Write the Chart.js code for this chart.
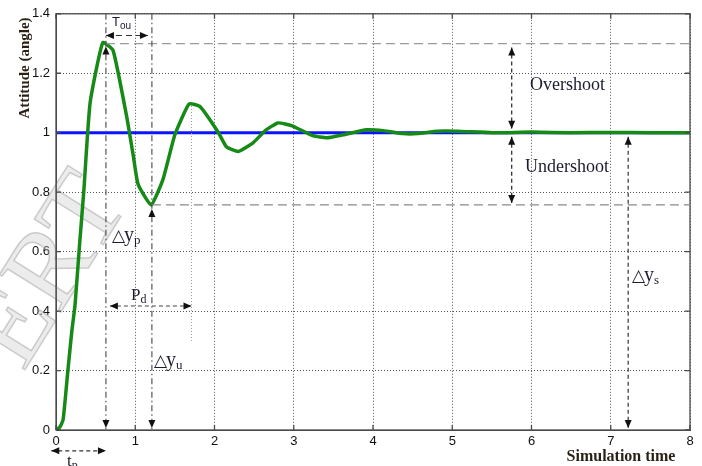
<!DOCTYPE html>
<html>
<head>
<meta charset="utf-8">
<script src="https://cdn.jsdelivr.net/npm/chart.js@4/dist/chart.umd.min.js"></script>
<style>
  body { margin: 0; background: #fff; }
  #wrap { width: 702px; height: 466px; }
</style>
</head>
<body>
<div id="wrap"><canvas id="chart" width="702" height="466"></canvas></div>
<script>
// ==========================
// DATA
// ==========================
const simTime  = [0, 0.05, 0.09, 0.15, 0.2, 0.24, 0.3, 0.35, 0.43, 0.59, 0.72, 0.89, 0.975, 1.035, 1.2, 1.35, 1.5, 1.68, 1.82, 2.05, 2.15, 2.3, 2.49, 2.64, 2.8, 2.98, 3.24, 3.42, 3.62, 3.92, 4.13, 4.38, 4.56, 4.81, 5.06, 5.5, 6, 6.5, 7, 7.5, 8];
const attitude = [0, 0.01, 0.035, 0.2, 0.333, 0.42, 0.633, 0.8, 1.1, 1.303, 1.277, 1.057, 0.923, 0.827, 0.757, 0.843, 0.993, 1.097, 1.087, 1.0, 0.953, 0.937, 0.967, 1.007, 1.033, 1.023, 0.99, 0.983, 0.993, 1.01, 1.007, 0.997, 0.997, 1.005, 1.005, 1.0, 1.002, 1.0, 1.001, 1.0, 1.0];

const setpointTime  = [0, 8];
const setpointValue = [1, 1];

const xTicks = [0, 1, 2, 3, 4, 5, 6, 7, 8];
const yTicks = [0, 0.2, 0.4, 0.6, 0.8, 1, 1.2, 1.4];

// annotation positions (data units)
const peakTime = 0.63,   peakValue = 1.3;
const underTime = 1.21,  underValue = 0.757;
const touLevel = 1.327,  touEnd = 1.16;
const pdLevel = 0.417,   pdStart = 0.68, pdEnd = 1.71, pdTop = 1.09, pdBottom = 0.3;
const shootTime = 5.75;
const settleTime = 7.22;
const tpLevel = -0.07,   tpStart = -0.06;

// ==========================
// HELPERS
// ==========================
function arrowHead(ctx, x, y, dir) {
    const l = 8, w = 3.5;
    ctx.beginPath();
    ctx.moveTo(x, y);
    if (dir === 'up')    { ctx.lineTo(x - w, y + l); ctx.lineTo(x + w, y + l); }
    if (dir === 'down')  { ctx.lineTo(x - w, y - l); ctx.lineTo(x + w, y - l); }
    if (dir === 'left')  { ctx.lineTo(x + l, y - w); ctx.lineTo(x + l, y + w); }
    if (dir === 'right') { ctx.lineTo(x - l, y - w); ctx.lineTo(x - l, y + w); }
    ctx.closePath();
    ctx.fill();
}

function line(ctx, x1, y1, x2, y2, dash, color, width) {
    ctx.save();
    ctx.setLineDash(dash);
    ctx.strokeStyle = color;
    ctx.lineWidth = width || 1.2;
    ctx.beginPath();
    ctx.moveTo(x1, y1);
    ctx.lineTo(x2, y2);
    ctx.stroke();
    ctx.restore();
}

function subText(ctx, main, sub, x, y, font, subFont, withTri) {
    ctx.save();
    ctx.fillStyle = '#1c1c30';
    ctx.textBaseline = 'alphabetic';
    ctx.textAlign = 'left';
    if (withTri) {
        ctx.font = '17px "DejaVu Sans"';
        ctx.fillText('\u25B3', x, y);
        x += ctx.measureText('\u25B3').width - 1;
    }
    ctx.font = font;
    ctx.fillText(main, x, y);
    x += ctx.measureText(main).width;
    ctx.font = subFont;
    ctx.fillText(sub, x, y + 3);
    ctx.restore();
}

// ==========================
// PLUGINS
// ==========================
const watermark = {
    id: 'watermark',
    beforeDatasetsDraw(chart) {
        const ctx = chart.ctx;
        ctx.save();
        ctx.translate(52, 272);
        ctx.rotate(-58 * Math.PI / 180);
        ctx.font = '110px "Liberation Serif"';
        ctx.textAlign = 'center';
        ctx.textBaseline = 'middle';
        ctx.fillStyle = 'rgba(200,200,200,0.35)';
        ctx.strokeStyle = 'rgba(150,150,150,0.45)';
        ctx.lineWidth = 1.5;
        ctx.fillText('ERT', 0, 0);
        ctx.strokeText('ERT', 0, 0);
        ctx.restore();
    }
};

const annotations = {
    id: 'annotations',
    afterDatasetsDraw(chart) {
        const ctx = chart.ctx;
        const xs = chart.scales.x, ys = chart.scales.y;
        const px = v => xs.getPixelForValue(v);
        const py = v => ys.getPixelForValue(v);
        const area = chart.chartArea;
        const dashDot = [6, 3, 1.5, 3];
        const dashed = [4, 3];

        // frame and inward ticks
        ctx.save();
        ctx.strokeStyle = '#4a4a4a';
        ctx.lineWidth = 1.3;
        ctx.strokeRect(area.left, area.top, area.right - area.left, area.bottom - area.top);
        ctx.beginPath();
        xTicks.forEach(t => {
            ctx.moveTo(px(t), area.bottom); ctx.lineTo(px(t), area.bottom - 5);
            ctx.moveTo(px(t), area.top);    ctx.lineTo(px(t), area.top + 5);
        });
        yTicks.forEach(v => {
            ctx.moveTo(area.left, py(v));  ctx.lineTo(area.left + 5, py(v));
            ctx.moveTo(area.right, py(v)); ctx.lineTo(area.right - 5, py(v));
        });
        ctx.stroke();
        ctx.restore();

        // reference levels
        line(ctx, px(peakTime), py(peakValue), area.right, py(peakValue), [9, 5], '#9a9a9a', 1.2);
        line(ctx, px(underTime), py(underValue), area.right, py(underValue), [9, 5], '#8a8a8a', 1.2);

        // peak / undershoot verticals
        line(ctx, px(peakTime), area.top, px(peakTime), area.bottom, dashDot, '#555', 1.2);
        line(ctx, px(underTime), area.top, px(underTime), area.bottom, dashDot, '#555', 1.2);
        line(ctx, px(pdEnd), py(pdTop), px(pdEnd), py(pdBottom), [1, 2], '#999', 1);

        ctx.fillStyle = '#111';
        arrowHead(ctx, px(peakTime), py(peakValue) + 3, 'up');
        arrowHead(ctx, px(peakTime), area.bottom - 2, 'down');
        arrowHead(ctx, px(underTime), py(underValue) + 4, 'up');
        arrowHead(ctx, px(underTime), area.bottom - 2, 'down');

        // T_ou
        line(ctx, px(peakTime), py(touLevel), px(touEnd), py(touLevel), [6, 4], '#333', 1.2);
        arrowHead(ctx, px(peakTime), py(touLevel), 'left');
        arrowHead(ctx, px(touEnd), py(touLevel), 'right');

        // P_d
        line(ctx, px(pdStart), py(pdLevel), px(pdEnd), py(pdLevel), dashed, '#444', 1.1);
        arrowHead(ctx, px(pdStart), py(pdLevel), 'left');
        arrowHead(ctx, px(pdEnd), py(pdLevel), 'right');

        // overshoot / undershoot
        line(ctx, px(shootTime), py(peakValue) + 4, px(shootTime), py(1) - 4, dashed, '#333', 1.3);
        arrowHead(ctx, px(shootTime), py(peakValue) + 4, 'up');
        arrowHead(ctx, px(shootTime), py(1) - 4, 'down');
        line(ctx, px(shootTime), py(1) + 4, px(shootTime), py(underValue) - 2, dashed, '#333', 1.3);
        arrowHead(ctx, px(shootTime), py(1) + 4, 'up');
        arrowHead(ctx, px(shootTime), py(underValue) - 2, 'down');

        // settling
        line(ctx, px(settleTime), py(1) + 4, px(settleTime), area.bottom - 2, dashed, '#444', 1.3);
        arrowHead(ctx, px(settleTime), py(1) + 4, 'up');
        arrowHead(ctx, px(settleTime), area.bottom - 2, 'down');

        // t_p under the axis
        line(ctx, px(tpStart), py(tpLevel), px(peakTime), py(tpLevel), dashed, '#333', 1.2);
        arrowHead(ctx, px(tpStart), py(tpLevel), 'left');
        arrowHead(ctx, px(peakTime), py(tpLevel), 'right');

        // labels
        subText(ctx, 'T', 'ou', 112, 26, '13px "Liberation Sans"', '10px "Liberation Sans"', false);
        subText(ctx, 'y', 'p', 112, 241, '20px "Liberation Serif"', '13px "Liberation Serif"', true);
        subText(ctx, 'y', 'u', 154, 366, '20px "Liberation Serif"', '13px "Liberation Serif"', true);
        subText(ctx, 'y', 's', 632, 281, '20px "Liberation Serif"', '13px "Liberation Serif"', true);
        subText(ctx, 'P', 'd', 131, 300, '17px "Liberation Serif"', '12px "Liberation Serif"', false);
        subText(ctx, 't', 'p', 67, 466, '17px "Liberation Serif"', '12px "Liberation Serif"', false);

        ctx.save();
        ctx.fillStyle = '#1c1c30';
        ctx.font = '18px "Liberation Serif"';
        ctx.textBaseline = 'alphabetic';
        ctx.fillText('Overshoot', 530, 90);
        ctx.fillText('Undershoot', 525, 172);

        // axis titles
        ctx.fillStyle = '#2a1f14';
        ctx.font = 'bold 16px "Liberation Serif"';
        ctx.textAlign = 'center';
        ctx.textBaseline = 'middle';
        ctx.fillText('Simulation time', 621, 457);
        ctx.translate(25, 68);
        ctx.rotate(-Math.PI / 2);
        ctx.font = 'bold 15px "Liberation Serif"';
        ctx.fillText('Attitude (angle)', 0, 0);
        ctx.restore();
    }
};

// ==========================
// CHART
// ==========================
new Chart(document.getElementById('chart'), {
    type: 'line',
    data: {
        datasets: [{
            label: 'Attitude',
            data: simTime.map((t, i) => ({ x: t, y: attitude[i] })),
            borderColor: '#168a16',
            borderWidth: 3.5,
            pointRadius: 0,
            tension: 0.15
        }, {
            label: 'Setpoint',
            data: setpointTime.map((t, i) => ({ x: t, y: setpointValue[i] })),
            borderColor: '#0a14ff',
            borderWidth: 3,
            pointRadius: 0
        }]
    },
    options: {
        responsive: false,
        animation: false,
        layout: { padding: { left: 0, top: 10, right: 12, bottom: 0 } },
        plugins: { legend: { display: false }, tooltip: { enabled: false } },
        scales: {
            x: {
                type: 'linear',
                min: 0, max: 8,
                afterFit: s => { s.height = 36; },
                afterBuildTicks: s => { s.ticks = xTicks.map(v => ({ value: v })); },
                ticks: { padding: 4, color: '#111', font: { family: 'Liberation Sans', size: 13 } },
                grid: { color: '#555', lineWidth: 1, drawTicks: false },
                border: { dash: [1, 2], color: '#4a4a4a' }
            },
            y: {
                min: 0, max: 1.4,
                afterFit: s => { s.width = 56; },
                afterBuildTicks: s => { s.ticks = yTicks.map(v => ({ value: v })); },
                ticks: {
                    padding: 6, color: '#111',
                    font: { family: 'Liberation Sans', size: 13 },
                    callback: v => String(+v.toFixed(1))
                },
                grid: { color: '#555', lineWidth: 1, drawTicks: false },
                border: { dash: [1, 2], color: '#4a4a4a' }
            }
        }
    },
    plugins: [watermark, annotations]
});
</script>
</body>
</html>
